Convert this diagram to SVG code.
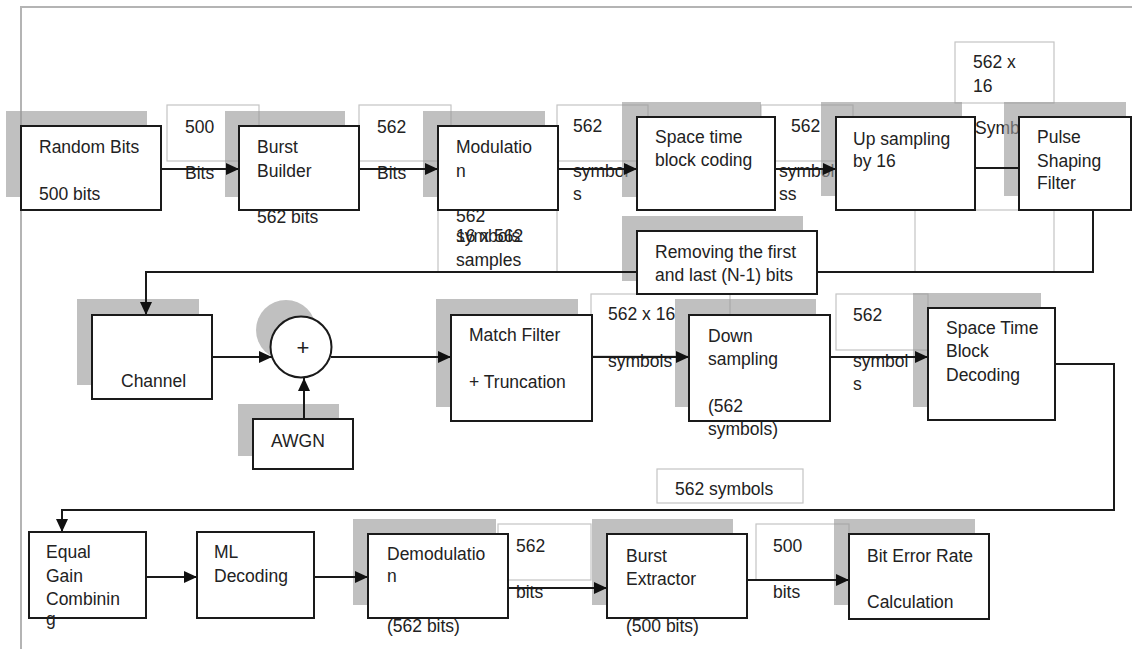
<svg xmlns="http://www.w3.org/2000/svg" width="1132" height="649" viewBox="0 0 1132 649">
<style>
text{font-family:"Liberation Sans",Arial,sans-serif;font-size:17.5px;fill:#222}
.frame{fill:none;stroke:#b4b4b4;stroke-width:2}
.lb{fill:#fff;stroke:#c4c4c4;stroke-width:1.2}
.sh{fill:#999;fill-opacity:0.62}
.box{fill:#fff;stroke:#1a1a1a;stroke-width:2}
.cn{fill:none;stroke:#1a1a1a;stroke-width:2}
.ar{marker-end:url(#ah)}
</style>
<defs>
<marker id="ah" markerUnits="userSpaceOnUse" markerWidth="13" markerHeight="12" viewBox="0 0 13 12" refX="13" refY="6" orient="auto">
<path d="M0,0 L13,6 L0,12 z" fill="#111"/>
</marker>
</defs>
<rect width="1132" height="649" fill="#fff"/>
<path class="frame" d="M21,649 V7 H1132"/>

<g id="labels">
<rect class="lb" x="167" y="105" width="92" height="56"/>
<text x="185" y="133">500</text><text x="185" y="179">Bits</text>
<rect class="lb" x="359" y="105" width="92" height="56"/>
<text x="377" y="133">562</text><text x="377" y="179">Bits</text>
<rect class="lb" x="557" y="105" width="91" height="56"/>
<text x="573" y="132">562</text><text x="573" y="177">symbol</text><text x="573" y="200">s</text>
<rect class="lb" x="438" y="210" width="119" height="62"/>
<text x="456" y="222">562</text><text x="456" y="242">16 x 562</text><text x="456" y="242">symbols</text><text x="456" y="266">samples</text>
<rect class="lb" x="761" y="105" width="92" height="56"/>
<text x="791" y="132">562</text><text x="779" y="177">symbol</text><text x="779" y="200">ss</text>
<rect class="lb" x="955" y="42" width="99" height="61"/>
<text x="973" y="68">562 x</text><text x="973" y="92">16</text>
<rect class="lb" x="915" y="210" width="139" height="62"/>
<text x="975" y="134">Symbols</text>
<rect class="lb" x="591" y="294" width="139" height="62"/>
<text x="608" y="320">562 x 16</text><text x="608" y="367">symbols</text>
<rect class="lb" x="836" y="294" width="92" height="56"/>
<text x="853" y="321">562</text><text x="853" y="367">symbol</text><text x="853" y="390">s</text>
<rect class="lb" x="657" y="469" width="146" height="34"/>
<text x="675" y="495">562 symbols</text>
<rect class="lb" x="498" y="524" width="93" height="56"/>
<text x="516" y="552">562</text><text x="516" y="598">bits</text>
<rect class="lb" x="756" y="524" width="93" height="56"/>
<text x="773" y="552">500</text><text x="773" y="598">bits</text>
</g>

<g id="shadows">
<rect class="sh" x="6" y="111" width="141" height="86"/>
<rect class="sh" x="225" y="111" width="120" height="86"/>
<rect class="sh" x="423" y="111" width="122" height="86"/>
<rect class="sh" x="622" y="102" width="139" height="95"/>
<rect class="sh" x="821" y="102" width="141" height="94"/>
<rect class="sh" x="1004" y="102" width="122" height="94"/>
<rect class="sh" x="622" y="216" width="181" height="65"/>
<rect class="sh" x="77" y="299" width="122" height="86"/>
<circle class="sh" cx="286" cy="330" r="30"/>
<rect class="sh" x="238" y="404" width="101" height="52"/>
<rect class="sh" x="436" y="299" width="142" height="108"/>
<rect class="sh" x="675" y="299" width="141" height="108"/>
<rect class="sh" x="913" y="293" width="128" height="114"/>
<rect class="sh" x="353" y="519" width="143" height="86"/>
<rect class="sh" x="592" y="519" width="141" height="86"/>
<rect class="sh" x="834" y="519" width="141" height="86"/>
</g>

<g id="connectors">
<path class="cn ar" d="M161,169 H239"/>
<path class="cn ar" d="M359,169 H438"/>
<path class="cn ar" d="M558,169 H637"/>
<path class="cn ar" d="M775,169 H836"/>
<path class="cn" d="M975,168 H1019"/>
<path class="cn ar" d="M1093,210 V272 H146 V315"/>
<path class="cn ar" d="M212,357 H272"/>
<path class="cn ar" d="M331,357 H451"/>
<path class="cn ar" d="M304,419 V378"/>
<path class="cn ar" d="M592,357 H689"/>
<path class="cn ar" d="M830,357 H928"/>
<path class="cn ar" d="M1055,364 H1114 V510 H62 V532"/>
<path class="cn ar" d="M146,577 H197"/>
<path class="cn ar" d="M314,577 H368"/>
<path class="cn ar" d="M508,588 H607"/>
<path class="cn ar" d="M747,580 H849"/>
</g>

<g id="random-bits">
<rect class="box" x="21" y="126" width="140" height="84"/>
<text x="39" y="153">Random Bits</text><text x="39" y="200">500 bits</text>
</g>
<g id="burst-builder">
<rect class="box" x="239" y="126" width="120" height="84"/>
<text x="257" y="153">Burst</text><text x="257" y="177">Builder</text><text x="257" y="223">562 bits</text>
</g>
<g id="modulation">
<rect class="box" x="438" y="126" width="120" height="84"/>
<text x="456" y="153">Modulatio</text><text x="456" y="177">n</text>
</g>
<g id="stbc">
<rect class="box" x="637" y="117" width="138" height="93"/>
<text x="655" y="143">Space time</text><text x="655" y="166">block coding</text>
</g>
<g id="upsampling">
<rect class="box" x="836" y="117" width="139" height="93"/>
<text x="853" y="145">Up sampling</text><text x="853" y="167">by 16</text>
</g>
<g id="pulse-shaping">
<rect class="box" x="1019" y="117" width="112" height="93"/>
<text x="1037" y="143">Pulse</text><text x="1037" y="167">Shaping</text><text x="1037" y="189">Filter</text>
</g>
<g id="removing">
<rect class="box" x="637" y="231" width="180" height="63"/>
<text x="655" y="258">Removing the first</text><text x="655" y="281">and last (N-1) bits</text>
</g>
<g id="channel">
<rect class="box" x="92" y="315" width="120" height="84"/>
<text x="121" y="387">Channel</text>
</g>
<g id="adder">
<circle class="box" cx="301" cy="347" r="30.5"/>
<text x="303" y="355" text-anchor="middle" style="font-size:22px">+</text>
</g>
<g id="awgn">
<rect class="box" x="253" y="419" width="100" height="50"/>
<text x="271" y="447">AWGN</text>
</g>
<g id="match-filter">
<rect class="box" x="451" y="315" width="141" height="106"/>
<text x="469" y="341">Match Filter</text><text x="469" y="388">+ Truncation</text>
</g>
<g id="down-sampling">
<rect class="box" x="689" y="315" width="141" height="106"/>
<text x="708" y="342">Down</text><text x="708" y="365">sampling</text><text x="708" y="412">(562</text><text x="708" y="435">symbols)</text>
</g>
<g id="stbd">
<rect class="box" x="928" y="308" width="127" height="112"/>
<text x="946" y="334">Space Time</text><text x="946" y="357">Block</text><text x="946" y="381">Decoding</text>
</g>
<g id="egc">
<rect class="box" x="29" y="532" width="117" height="86"/>
<text x="46" y="558">Equal</text><text x="46" y="582">Gain</text><text x="46" y="605">Combinin</text><text x="46" y="625">g</text>
</g>
<g id="ml-decoding">
<rect class="box" x="197" y="532" width="117" height="86"/>
<text x="214" y="558">ML</text><text x="214" y="582">Decoding</text>
</g>
<g id="demodulation">
<rect class="box" x="368" y="534" width="140" height="84"/>
<text x="387" y="560">Demodulatio</text><text x="387" y="582">n</text><text x="387" y="632">(562 bits)</text>
</g>
<g id="burst-extractor">
<rect class="box" x="607" y="534" width="140" height="84"/>
<text x="626" y="562">Burst</text><text x="626" y="585">Extractor</text><text x="626" y="632">(500 bits)</text>
</g>
<g id="ber">
<rect class="box" x="849" y="534" width="140" height="85"/>
<text x="867" y="562">Bit Error Rate</text><text x="867" y="608">Calculation</text>
</g>
</svg>
